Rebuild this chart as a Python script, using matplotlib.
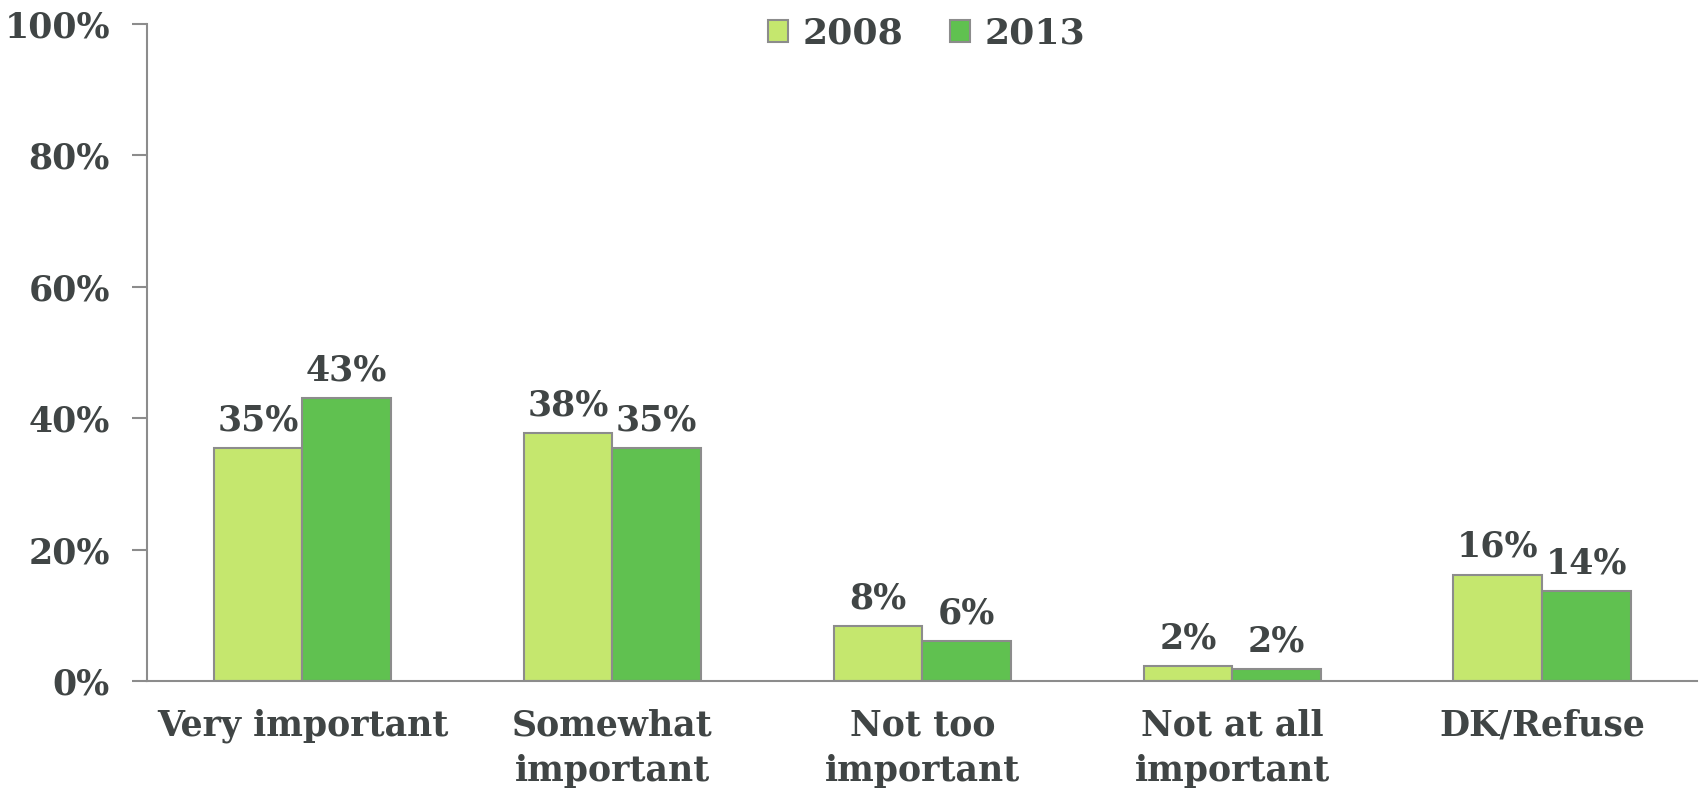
import matplotlib
matplotlib.use("Agg")
import matplotlib.pyplot as plt
import numpy as np

# data
categories = ["Very important", "Somewhat\nimportant", "Not too\nimportant",
              "Not at all\nimportant", "DK/Refuse"]
vals_2008 = [35.4, 37.8, 8.4, 2.3, 16.2]
vals_2013 = [43.1, 35.4, 6.1, 1.8, 13.7]
years = ["2008", "2013"]

txt = "#404545"
edge = "#8c8c8c"
plt.rcParams['font.family'] = ['DejaVu Serif']
plt.rcParams['font.weight'] = 'bold'

fig = plt.figure(figsize=(17.01, 7.9), dpi=100)
ax = fig.add_axes([0.0867, 0.138, 0.911, 0.832])

x = np.arange(len(categories))
w = 0.286
b1 = ax.bar(x - w/2, vals_2008, w, color="#c5e76e", edgecolor=edge, linewidth=1.5, label=years[0])
b2 = ax.bar(x + w/2, vals_2013, w, color="#60c150", edgecolor=edge, linewidth=1.5, label=years[1])

for bars, vals in [(b1, vals_2008), (b2, vals_2013)]:
    for r, v in zip(bars, vals):
        ax.text(r.get_x() + r.get_width()/2, v + 1.6, f"{round(v)}%", ha="center", va="bottom",
                fontsize=25, fontweight="bold", color=txt)

ax.set_xlim(-0.5, 4.5)
ax.set_ylim(0, 100)
ax.set_yticks(range(0, 101, 20))
ax.set_yticklabels([f"{t}%" for t in range(0, 101, 20)], fontsize=25, fontweight="bold", color=txt)
ax.set_xticks(x)
ax.set_xticklabels(categories, fontsize=25, fontweight="bold", color=txt, linespacing=1.4)
ax.tick_params(axis="x", length=0, pad=20)
ax.tick_params(axis="y", length=11, width=1.5, color=edge, pad=16)

for s in ["top", "right"]:
    ax.spines[s].set_visible(False)
for s in ["left", "bottom"]:
    ax.spines[s].set_color(edge)
    ax.spines[s].set_linewidth(1.5)

ax.legend(loc="upper center", bbox_to_anchor=(0.503, 1.06), ncol=2, frameon=False,
          prop={"size": 26, "weight": "bold"}, labelcolor=txt,
          handlelength=0.55, handleheight=0.55, handletextpad=0.4, columnspacing=1.3)

fig.savefig("out.png", dpi=100)
